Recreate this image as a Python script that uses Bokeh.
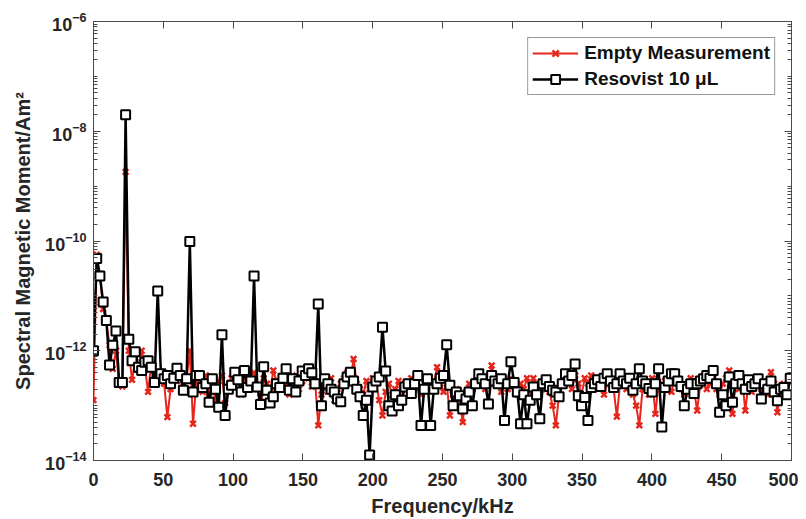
from bokeh.plotting import figure
from bokeh.models import LinearAxis, LogAxis, FixedTicker, Legend, LegendItem, Range1d
from bokeh.embed import file_html
from bokeh.resources import INLINE

# frequency bins (kHz)
freq_step_khz = 2.3
n_bins = 218

# log10 of spectral magnetic moment (Am^2)
empty_log10 = [
    -12.9, -10.25, -10.6, -11.24, -11.48, -11.9, -12.33, -12.0, -12.6, -12.65,
    -8.74, -12.0, -12.53, -12.2, -12.35, -12.0, -12.3, -12.75, -12.25, -12.5,
    -12.4, -12.55, -12.6, -13.21, -12.7, -12.45, -12.55, -12.4, -12.6, -12.5,
    -12.0, -13.33, -12.6, -12.5, -12.75, -12.45, -12.85, -12.6, -12.9, -12.55,
    -12.45, -12.95, -12.7, -12.5, -12.6, -12.4, -12.8, -12.55, -12.6, -12.45,
    -12.4, -12.7, -12.85, -12.5, -12.6, -12.75, -12.36, -12.55, -12.7, -12.5,
    -12.6, -12.8, -12.45, -12.6, -12.7, -12.55, -12.4, -12.5, -12.65, -12.55,
    -13.36, -12.8, -12.6, -12.75, -12.5, -12.9, -12.7, -12.6, -12.5, -12.4,
    -12.55, -12.15, -12.6, -12.7, -12.8, -12.55, -12.7, -12.5, -12.6, -12.9,
    -13.18, -12.75, -12.6, -12.8, -12.7, -12.55, -12.9, -12.6, -12.7, -12.5,
    -12.6, -12.7, -12.8, -12.6, -12.5, -12.7, -12.6, -12.3, -12.55, -12.75,
    -12.6, -13.18, -12.8, -12.7, -12.9, -13.3, -12.75, -12.6, -12.7, -12.55,
    -12.6, -12.5, -12.7, -12.6, -12.27, -12.5, -12.6, -12.75, -12.55, -12.7,
    -12.5, -12.65, -12.8, -12.6, -12.7, -12.5, -12.75, -12.5, -12.6, -12.8,
    -12.6, -12.7, -12.75, -13.0, -13.36, -12.8, -12.6, -12.45, -12.5, -12.7,
    -12.45, -12.6, -12.8, -12.5, -12.6, -12.45, -12.7, -12.6, -12.5, -12.8,
    -12.6, -12.5, -12.7, -13.2, -12.6, -12.5, -12.7, -12.55, -12.8, -13.0,
    -13.36, -12.7, -12.6, -12.8, -12.5, -13.15, -12.6, -12.7, -12.55, -12.6,
    -12.75, -12.5, -12.6, -12.7, -12.8, -12.6, -12.5, -12.7, -13.09, -12.6,
    -12.55, -12.7, -12.6, -12.5, -12.7, -12.8, -12.6, -12.5, -12.36, -13.15,
    -12.6, -12.7, -12.5, -13.09, -12.6, -12.75, -12.6, -12.55, -12.7, -12.6,
    -12.8, -12.39, -12.6, -13.12, -12.7, -12.6, -12.75, -12.55,
]

resovist_log10 = [
    -12.0, -10.32, -10.64, -11.11, -11.45, -12.26, -11.9, -11.64, -12.58, -12.58,
    -7.7, -11.79, -12.18, -12.02, -12.3, -12.36, -12.21, -12.18, -12.3, -12.58,
    -10.91, -12.42, -12.51, -12.45, -12.6, -12.5, -12.32, -12.45, -12.72, -12.51,
    -10.01, -12.75, -12.45, -12.45, -12.67, -12.6, -12.94, -12.51, -12.7, -13.03,
    -11.71, -13.18, -12.7, -12.63, -12.39, -12.53, -12.75, -12.36, -12.67, -12.55,
    -10.64, -12.66, -12.98, -12.29, -12.72, -12.95, -12.84, -12.6, -12.67, -12.5,
    -12.33, -12.72, -12.51, -12.75, -12.55, -12.37, -12.45, -12.33, -12.4, -12.6,
    -11.15, -13.0, -12.51, -12.6, -12.7, -12.75, -12.88, -12.93, -12.6, -12.48,
    -12.39, -12.55, -12.7, -12.84, -13.18, -12.9, -13.9, -12.66, -12.55, -12.48,
    -11.57, -12.37, -13.0, -13.1, -12.8, -13.0, -12.9, -12.66, -12.6, -12.78,
    -12.6, -12.45, -13.36, -12.7, -12.51, -13.36, -12.7, -12.6, -12.5, -12.45,
    -11.89, -12.63, -13.0, -12.75, -12.82, -13.06, -12.88, -12.75, -13.0, -12.6,
    -12.42, -12.51, -12.6, -12.97, -12.45, -12.55, -12.6, -12.51, -13.27, -12.6,
    -12.2, -12.58, -12.75, -13.33, -12.8, -13.33, -12.9, -12.66, -12.8, -13.24,
    -12.6, -12.53, -12.65, -12.72, -12.75, -12.84, -12.6, -12.42, -12.55, -12.45,
    -12.24, -12.82, -13.0, -12.85, -13.27, -12.67, -12.6, -12.53, -12.65, -12.5,
    -12.42, -12.55, -12.67, -12.6, -12.42, -12.55, -12.6, -12.5, -12.72, -12.6,
    -12.33, -12.55, -12.6, -12.69, -12.75, -12.6, -12.33, -13.39, -12.67, -12.55,
    -12.42, -12.42, -12.55, -12.65, -13.0, -12.7, -12.6, -12.78, -12.6, -12.55,
    -12.51, -12.45, -12.5, -12.36, -12.6, -13.12, -12.8, -13.0, -12.48, -12.94,
    -12.6, -12.45, -12.6, -12.7, -12.53, -12.65, -12.6, -12.51, -12.88, -12.6,
    -12.7, -12.55, -12.75, -12.91, -12.7, -12.67, -12.8, -12.5,
]

x_ticks = [0, 50, 100, 150, 200, 250, 300, 350, 400, 450, 500]
y_tick_exponents = [-14, -12, -10, -8, -6]

series_names = ["Empty Measurement", "Resovist 10 \u03bcL"]

freq = [i * freq_step_khz for i in range(n_bins)]
empty = [10.0 ** v for v in empty_log10]
reso = [10.0 ** v for v in resovist_log10]

FONT = "Liberation Sans"
AX = "#4a4a4a"
RED = "#E5261C"

p = figure(width=798, height=519, y_axis_type="log",
           x_range=Range1d(0, 500), y_range=Range1d(1e-14, 1e-6),
           output_backend="svg", toolbar_location=None,
           min_border_left=93, min_border_right=7, min_border_top=21,
           min_border_bottom=57)
p.grid.visible = False
p.outline_line_color = AX
p.outline_line_width = 1
p.background_fill_color = "white"
p.border_fill_color = "white"

major_y = [10.0 ** e for e in y_tick_exponents]
minor_y = []
for e in range(-14, -6):
    for m in range(1, 10):
        if m == 1 and e in y_tick_exponents:
            continue
        minor_y.append(m * 10.0 ** e)

yax = p.yaxis[0]
yax.ticker = FixedTicker(ticks=major_y, minor_ticks=minor_y)
xax = p.xaxis[0]
xax.ticker = FixedTicker(ticks=x_ticks)

for ax in (xax, yax):
    ax.axis_line_color = AX
    ax.major_tick_line_color = AX
    ax.minor_tick_line_color = AX
    ax.major_tick_in = 7
    ax.major_tick_out = 0
    ax.minor_tick_in = 4
    ax.minor_tick_out = 0
    ax.major_label_text_font = FONT
    ax.major_label_text_font_style = "bold"
    ax.major_label_text_font_size = "18px"
    ax.major_label_text_color = "#262626"
    ax.axis_label_text_font = FONT
    ax.axis_label_text_font_style = "bold"
    ax.axis_label_text_font_size = "20px"
    ax.axis_label_text_color = "#262626"

xax.axis_label = "Frequency/kHz"
xax.major_label_standoff = 12
xax.axis_label_standoff = 6
yax.axis_label = "Spectral Magnetic Moment/Am\u00b2"
yax.major_label_standoff = 7
yax.axis_label_standoff = 8

top = LinearAxis(ticker=FixedTicker(ticks=x_ticks), major_label_text_font_size="2px",
                 major_label_text_color=None,
                 axis_line_color=AX, major_tick_line_color=AX, major_tick_in=7,
                 major_tick_out=0, minor_tick_out=0, major_label_standoff=0)
p.add_layout(top, "above")
right = LogAxis(ticker=FixedTicker(ticks=major_y, minor_ticks=minor_y),
                major_label_text_font_size="2px", major_label_text_color=None,
                axis_line_color=AX,
                major_tick_line_color=AX, minor_tick_line_color=AX,
                major_tick_in=7, major_tick_out=0, minor_tick_in=4, minor_tick_out=0,
                major_label_standoff=0)
p.add_layout(right, "right")

r_line = p.line(freq, empty, line_color=RED, line_width=2)
r_pts = p.scatter(freq, empty, marker="x", size=8, line_color=RED, line_width=2.5)
b_line = p.line(freq, reso, line_color="black", line_width=2.5)
b_pts = p.scatter(freq, reso, marker="square", size=9, line_color="black",
                  line_width=2, fill_color="white")

legend = Legend(items=[LegendItem(label=series_names[0], renderers=[r_line, r_pts]),
                       LegendItem(label=series_names[1], renderers=[b_line, b_pts])],
                location="top_right", margin=16, padding=4, spacing=4,
                glyph_width=46, glyph_height=22, label_standoff=6,
                label_text_font=FONT, label_text_font_style="bold",
                label_text_font_size="19px", label_text_color="#111111",
                border_line_color="#333333", border_line_width=1,
                background_fill_alpha=1.0)
p.add_layout(legend, "center")

open("out.html", "w").write(file_html(p, INLINE))
